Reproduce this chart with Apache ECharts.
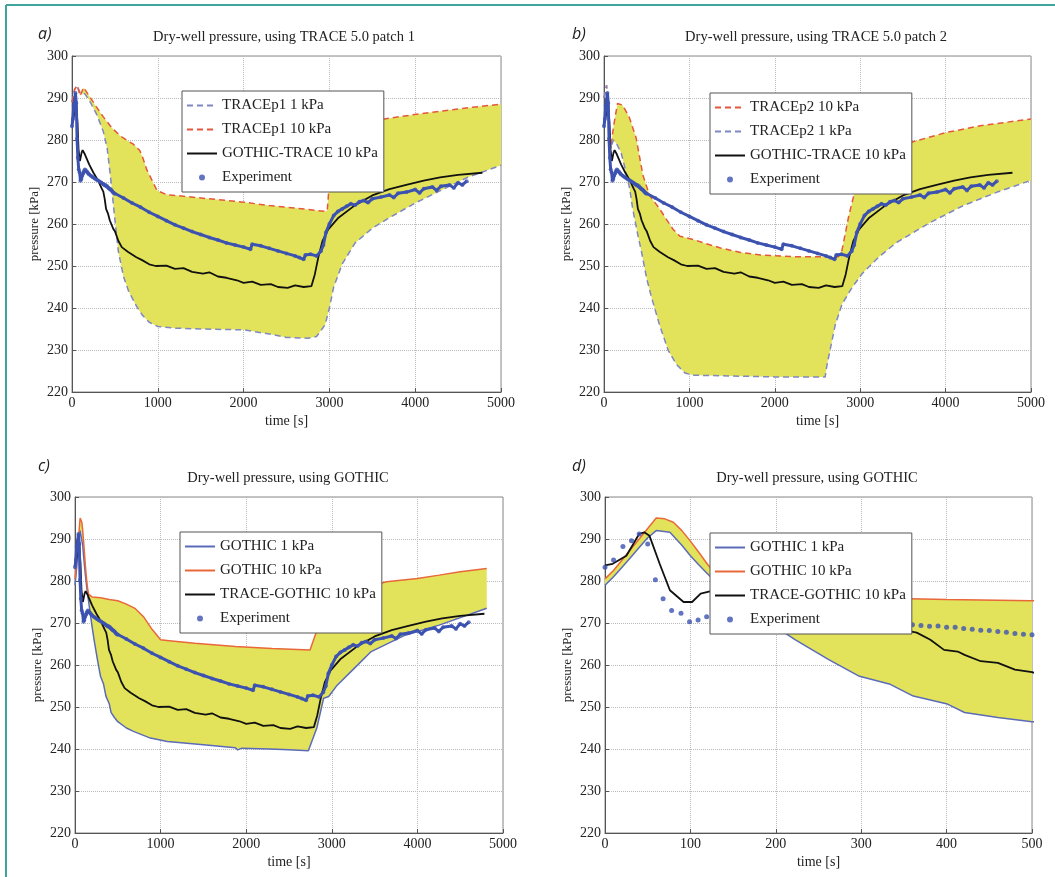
<!DOCTYPE html>
<html>
<head>
<meta charset="utf-8">
<script src="https://cdn.jsdelivr.net/npm/echarts@6/dist/echarts.min.js"></script>
<style>
  html, body { margin: 0; padding: 0; background: #fff; }
  #chart { width: 1055px; height: 877px; }
</style>
</head>
<body>
<div id="chart"></div>
<script>
  // time [s] / pressure [kPa] pairs
  var trace1Hi = [[0,289],[30,292],[60,293],[95,290.5],[135,292.5],[200,290.5],[280,288],[365,285.5],[460,283],[560,281],[650,279.8],[715,279],[790,277.5],[830,275.5],[870,273],[930,270.5],[990,268],[1100,267],[1300,266.6],[1600,266],[2000,265.2],[2300,264.4],[2600,263.8],[2950,263],[2975,263.2],[3000,270],[3040,282],[3200,283.4],[3400,284.2],[3640,285],[3900,285.8],[4200,286.6],[4500,287.4],[4800,288.1],[5000,288.5]]
  var trace1Lo = [[0,289],[30,292],[60,293],[100,291],[150,291],[200,289.5],[290,286],[365,282],[410,278],[450,271],[500,261],[540,253.5],[600,247.5],[660,244],[750,240.5],[820,238.3],[900,236.6],[1000,235.6],[1200,235.2],[1500,235],[2000,234.8],[2300,233.8],[2500,233],[2750,232.8],[2850,233.2],[2950,236],[3000,240],[3050,245],[3150,250.5],[3300,255.5],[3500,259],[3700,261.5],[4000,265],[4300,268],[4600,271],[5000,274]]
  var trace2Hi = [[0,290],[30,293],[55,285],[80,278],[110,283],[158,288.7],[217,288.3],[296,285.4],[375,280.6],[455,271.7],[534,266.8],[652,263.6],[731,261.1],[810,258.7],[889,257.1],[1047,256.3],[1166,255.5],[1364,254.3],[1600,253.2],[1838,252.6],[2233,252.2],[2747,252.2],[2787,253.8],[2866,261.9],[2964,270],[3024,273.3],[3200,276],[3400,278.2],[3656,279.8],[4012,281.8],[4407,283.4],[5000,285]]
  var trace2Lo = [[0,290],[30,293],[55,285],[80,278],[110,280],[150,279],[200,277],[250,273],[300,268.5],[336,263.6],[400,257],[435,253.8],[500,247],[550,243],[600,239.5],[650,236],[750,230],[850,226.5],[950,224.5],[1050,224],[1500,223.8],[2000,223.6],[2590,223.6],[2610,226.3],[2708,236],[2787,240.9],[2905,244.9],[3024,248.2],[3221,252.2],[3419,255.5],[3814,260.3],[4209,264.4],[4605,267.6],[5000,270.4]]
  var gothic10 = [[0,280.5],[10,282.5],[20,285],[30,287.5],[40,290],[50,292.5],[60,295],[70,294.8],[80,294],[90,292],[100,289.5],[110,286.8],[120,284],[130,281.5],[140,279.5],[150,277.8],[160,276.8],[180,276.4],[200,276.2],[300,276],[400,275.6],[500,275.3],[600,274.5],[700,273.5],[800,271.5],[900,268.5],[1000,266],[1100,265.8],[1400,265.2],[1873,264.4],[2300,263.9],[2746,263.6],[2806,267.1],[2900,272],[3000,274.5],[3200,276.8],[3400,278.5],[3639,279.8],[4000,280.6],[4254,281.4],[4500,282.2],[4810,283]]
  var gothic1 = [[0,279],[10,281],[20,283.3],[30,285.6],[40,288],[50,290.3],[60,292],[76,291.6],[90,288.5],[100,286],[110,283.8],[122,281.3],[140,278],[160,275],[180,272],[199,269.2],[223,266],[262,261.3],[298,257.3],[334,255.4],[361,252.6],[401,250.7],[421,248.7],[460,247.5],[500,246.5],[600,245],[683,244.2],[881,242.6],[1079,241.8],[1500,241],[1873,240.3],[1900,239.8],[1950,240.2],[2270,240],[2500,239.8],[2726,239.6],[2825,245],[2905,252.1],[2964,252.5],[3063,255.2],[3262,259.2],[3460,263.2],[3857,267.1],[4254,269.5],[4810,273.5]]
  var coupled10 = [[0,283.7],[9,284.1],[25,286],[40,291.2],[46,291.6],[52,290.8],[64,284.1],[76,277.8],[92,275],[102,275],[112,277],[124,277.6],[150,276.6],[200,274.2],[250,272.2],[300,270.5],[350,268.3],[365,267.7],[381,266],[397,263.6],[413,263.2],[421,262.4],[440,260.9],[460,260.5],[480,258.9],[500,258.3],[540,256],[580,254.5],[650,253.4],[750,252.1],[817,251.4],[900,250.4],[975,250],[1100,250.1],[1200,249.3],[1300,249.5],[1400,248.6],[1527,248.2],[1600,248.5],[1700,247.5],[1800,247.2],[1922,246.6],[2000,246],[2100,246.3],[2200,245.5],[2317,245.7],[2400,245],[2514,244.8],[2600,245.4],[2700,245],[2790,245.2],[2830,248],[2870,252],[2920,256],[2987,258.7],[3106,261.5],[3300,264.5],[3500,266.8],[3700,268.3],[3895,269.3],[4100,270.3],[4290,271.1],[4500,271.7],[4783,272.2]]
  var experiment = [[0,283.3],[10,285],[21,288.2],[31,289.6],[40,291.2],[50,288.8],[59,280.3],[68,275.8],[78,273],[89,272.3],[99,270.3],[109,270.7],[119,271.5],[130,272],[140,272.6],[150,273],[160,272.8],[170,272.5],[180,272.3],[190,272],[200,271.8],[220,271.5],[240,271.2],[260,270.9],[280,270.6],[300,270.4],[320,270.1],[340,269.9],[360,269.6],[370,269.4],[380,269.2],[390,269.3],[400,269],[410,269],[420,268.7],[430,268.5],[440,268.3],[450,268.2],[460,268],[470,267.8],[480,267.5],[490,267.3],[500,267.2],[600,266.2],[700,265],[800,264],[900,262.8],[1000,261.8],[1100,260.8],[1200,259.8],[1300,259],[1400,258.2],[1500,257.5],[1600,256.8],[1700,256.2],[1800,255.5],[1900,255],[2000,254.5],[2080,254],[2100,255.2],[2200,254.8],[2300,254.2],[2400,253.6],[2500,253],[2600,252.4],[2650,252],[2700,251.6],[2720,252.6],[2780,252.8],[2850,252.4],[2900,253.5],[2930,255],[2960,258],[3000,260],[3050,262],[3100,263],[3150,263.6],[3200,264.2],[3250,264.8],[3300,264.5],[3350,265.3],[3400,265.6],[3450,265.1],[3500,266],[3600,266.4],[3700,266.9],[3750,266.3],[3800,267.3],[3900,267.6],[4000,268.2],[4050,267.4],[4100,268.4],[4200,268.8],[4250,268],[4300,269],[4400,269.3],[4450,268.6],[4500,269.8],[4550,269.3],[4600,270.2]]

  var titles = ['Dry-well pressure, using TRACE 5.0 patch 1', 'Dry-well pressure, using TRACE 5.0 patch 2',
    'Dry-well pressure, using GOTHIC', 'Dry-well pressure, using GOTHIC']
  var panelTags = ['a)', 'b)', 'c)', 'd)']

  var serif = '"Liberation Serif", "DejaVu Serif", serif'
  var yellow = '#e3e35b'
  var red = '#e4573d'
  var greyBlue = '#7f88c0'
  var blue = '#5b6bb8'
  var orange = '#e8683a'
  var expBlue = '#3c52b0'

  var grids = [
    {left: 72, top: 56, width: 429, height: 336},
    {left: 604, top: 56, width: 427, height: 336},
    {left: 75, top: 497, width: 428, height: 336},
    {left: 605, top: 497, width: 427, height: 336}
  ]

  function plain(v) { return String(v) }

  function xAxis(i, max, step) {
    return {
      type: 'value', gridIndex: i, min: 0, max: max, interval: step,
      name: 'time [s]', nameLocation: 'middle', nameGap: 22,
      nameTextStyle: {fontFamily: serif, fontSize: 14, color: '#222'},
      axisLine: {onZero: false, lineStyle: {color: '#555'}},
      axisTick: {inside: true, length: 4, lineStyle: {color: '#555'}},
      axisLabel: {fontFamily: serif, fontSize: 14, color: '#222', margin: 4, formatter: plain},
      splitLine: {show: true, lineStyle: {type: 'dotted', color: '#bbb'}}
    }
  }
  function yAxis(i) {
    return {
      type: 'value', gridIndex: i, min: 220, max: 300, interval: 10,
      name: 'pressure [kPa]', nameLocation: 'middle', nameGap: 31,
      nameTextStyle: {fontFamily: serif, fontSize: 13, color: '#222'},
      axisLine: {onZero: false, lineStyle: {color: '#555'}},
      axisTick: {inside: true, length: 4, lineStyle: {color: '#555'}},
      axisLabel: {fontFamily: serif, fontSize: 14, color: '#222', margin: 4, formatter: plain},
      splitLine: {show: true, lineStyle: {type: 'dotted', color: '#bbb'}}
    }
  }

  // yellow area between the two bounding runs
  function band(i, upper, lower) {
    return {
      type: 'custom', xAxisIndex: i, yAxisIndex: i, z: 1, silent: true,
      data: [[0, 220]],
      renderItem: function (params, api) {
        var pts = upper.map(function (d) { return api.coord(d) })
          .concat(lower.slice().reverse().map(function (d) { return api.coord(d) }))
        var cs = params.coordSys
        return {
          type: 'polygon', shape: {points: pts},
          style: {fill: yellow, stroke: null},
          clipPath: {type: 'rect', shape: {x: cs.x, y: cs.y, width: cs.width, height: cs.height}}
        }
      }
    }
  }
  function curve(i, name, data, color, dashed, width) {
    return {
      type: 'line', name: name, xAxisIndex: i, yAxisIndex: i, data: data,
      symbol: 'none', z: 3, animation: false,
      lineStyle: {color: color, width: width || 1.5, type: dashed ? [6, 4] : 'solid'},
      itemStyle: {color: color}
    }
  }
  function expThick(i) {
    return [{
      type: 'line', name: 'expTrace', xAxisIndex: i, yAxisIndex: i, data: experiment,
      symbol: 'none', z: 4, lineStyle: {color: expBlue, width: 3}
    }, {
      type: 'scatter', name: 'Experiment', xAxisIndex: i, yAxisIndex: i, data: experiment,
      symbol: 'circle', symbolSize: 4, z: 5, itemStyle: {color: expBlue}
    }]
  }

  var series = [
    band(0, trace1Hi, trace1Lo),
    curve(0, 'TRACEp1 1 kPa', trace1Lo, greyBlue, true),
    curve(0, 'TRACEp1 10 kPa', trace1Hi, red, true),
    curve(0, 'GOTHIC-TRACE 10 kPa', coupled10, '#111', false, 1.8),
    band(1, trace2Hi, trace2Lo),
    curve(1, 'TRACEp2 10 kPa', trace2Hi, red, true),
    curve(1, 'TRACEp2 1 kPa', trace2Lo, greyBlue, true),
    curve(1, 'GOTHIC-TRACE 10 kPa', coupled10, '#111', false, 1.8),
    band(2, gothic10, gothic1),
    curve(2, 'GOTHIC 1 kPa', gothic1, blue, false),
    curve(2, 'GOTHIC 10 kPa', gothic10, orange, false),
    curve(2, 'TRACE-GOTHIC 10 kPa', coupled10, '#111', false, 1.8),
    band(3, gothic10, gothic1),
    curve(3, 'GOTHIC 1 kPa', gothic1, blue, false),
    curve(3, 'GOTHIC 10 kPa', gothic10, orange, false),
    curve(3, 'TRACE-GOTHIC 10 kPa', coupled10, '#111', false, 1.8),
    {
      type: 'scatter', name: 'Experiment', xAxisIndex: 3, yAxisIndex: 3, data: experiment,
      symbol: 'circle', symbolSize: 5, z: 5, itemStyle: {color: expBlue}
    }
  ].concat(expThick(0), expThick(1), expThick(2))

  function legend(names, left, top) {
    return {
      data: names.map(function (n) {
        return n === 'Experiment' ? {name: n, icon: 'circle'} : {name: n, itemStyle: {opacity: 0}}
      }),
      left: left, top: top, orient: 'vertical', selectedMode: false, z: 20,
      backgroundColor: '#fff', borderColor: '#555', borderWidth: 1,
      padding: [7, 6, 7, 4], itemGap: 9, itemWidth: 30, itemHeight: 6,
      textStyle: {fontFamily: serif, fontSize: 15, color: '#222'}
    }
  }

  var graphics = [
    {type: 'line', shape: {x1: 6, y1: 5, x2: 6, y2: 877}, style: {stroke: '#3fa59c', lineWidth: 2}},
    {type: 'line', shape: {x1: 6, y1: 5, x2: 1055, y2: 5}, style: {stroke: '#3fa59c', lineWidth: 2}}
  ]
  var titlePos = [[284, 37], [816, 37], [288, 478], [817, 478]]
  var tagPos = [[38, 34], [572, 34], [38, 466], [572, 466]]
  for (var k = 0; k < 4; k++) {
    graphics.push({type: 'text', x: titlePos[k][0], y: titlePos[k][1],
      style: {text: titles[k], textAlign: 'center', textVerticalAlign: 'middle', fontFamily: serif, fontSize: 14.5, fill: '#222'}})
    graphics.push({type: 'text', x: tagPos[k][0], y: tagPos[k][1],
      style: {text: panelTags[k], textAlign: 'left', textVerticalAlign: 'middle', fontFamily: '"Open Sans", sans-serif', fontStyle: 'italic', fontSize: 16, fill: '#222'}})
  }

  var chart = echarts.init(document.getElementById('chart'))
  chart.setOption({
    animation: false,
    backgroundColor: '#fff',
    grid: grids.map(function (g) {
      return Object.assign({show: true, borderColor: '#888', borderWidth: 1, backgroundColor: 'transparent'}, g)
    }),
    xAxis: [xAxis(0, 5000, 1000), xAxis(1, 5000, 1000), xAxis(2, 5000, 1000), xAxis(3, 500, 100)],
    yAxis: [yAxis(0), yAxis(1), yAxis(2), yAxis(3)],
    legend: [
      legend(['TRACEp1 1 kPa', 'TRACEp1 10 kPa', 'GOTHIC-TRACE 10 kPa', 'Experiment'], 182, 91),
      legend(['TRACEp2 10 kPa', 'TRACEp2 1 kPa', 'GOTHIC-TRACE 10 kPa', 'Experiment'], 710, 93),
      legend(['GOTHIC 1 kPa', 'GOTHIC 10 kPa', 'TRACE-GOTHIC 10 kPa', 'Experiment'], 180, 532),
      legend(['GOTHIC 1 kPa', 'GOTHIC 10 kPa', 'TRACE-GOTHIC 10 kPa', 'Experiment'], 710, 533)
    ],
    graphic: graphics,
    series: series
  })
</script>
</body>
</html>
